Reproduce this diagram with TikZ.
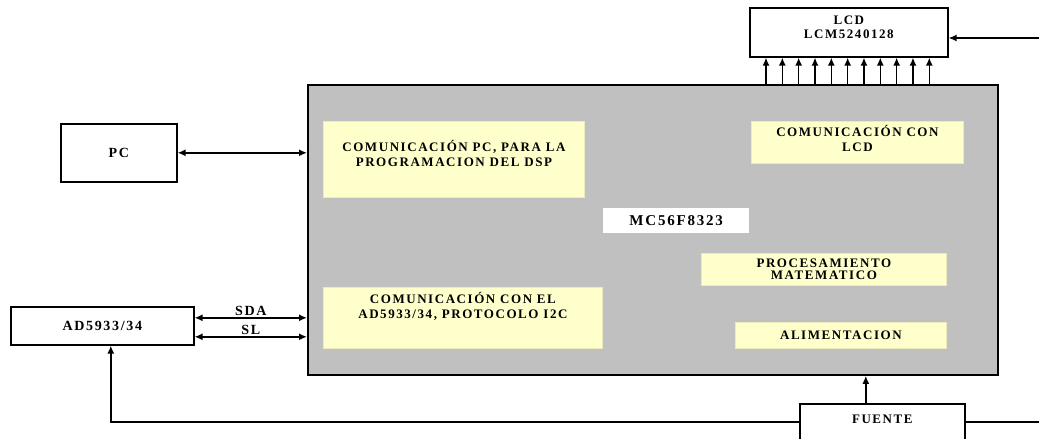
\documentclass[tikz,border=0pt]{standalone}
\usepackage{fontspec}
\setmainfont{Liberation Serif}
\newfontfamily\blockfont{Liberation Serif}[LetterSpace=12]
\usepackage{xcolor}
\definecolor{chipgray}{HTML}{C0C0C0}
\definecolor{taskyellow}{HTML}{FFFFCC}
\usepackage{tikz}
\usetikzlibrary{arrows.meta}

\tikzset{
  blk/.style={draw, line width=1.6pt, fill=white, inner sep=0pt, anchor=north west,
    align=center, font=\blockfont\bfseries\fontsize{14}{14}\selectfont},
  chip/.style={draw, line width=1.8pt, fill=chipgray, inner sep=0pt, anchor=north west},
  task/.style={fill=taskyellow, draw=taskyellow!92!black, line width=0.8pt, inner sep=0pt,
    anchor=north west},
  lbl/.style={align=center, inner sep=0pt, font=\blockfont\bfseries\fontsize{13}{15}\selectfont},
  sig/.style={inner sep=1pt, font=\blockfont\bfseries\fontsize{14}{14}\selectfont},
  bus/.style={line width=1.5pt, {Latex[length=8pt,width=7pt]}-{Latex[length=8pt,width=7pt]}},
  arr/.style={line width=1.5pt, -{Latex[length=8pt,width=7pt]}}
}

\begin{document}
\begin{tikzpicture}[x=1pt, y=-1pt]
  \useasboundingbox (0,0) rectangle (1039,439);
  \clip (0,0) rectangle (1039,439);

  % DSP board
  \node[chip, minimum width=690pt, minimum height=290pt] (dsp) at (307,84) {};

  % Tasks inside the DSP
  \node[task, minimum width=261pt, minimum height=76pt,
    label={[lbl, yshift=6pt]center:{COMUNICACIÓN PC, PARA LA\\PROGRAMACION DEL DSP}}]
    (pcprog) at (323,121) {};
  \node[task, minimum width=212pt, minimum height=42pt,
    label={[lbl, yshift=4pt]center:{COMUNICACIÓN CON\\LCD}}]
    (lcdcom) at (751,121) {};
  \node[fill=white, inner sep=0pt, anchor=north west, minimum width=146pt, minimum height=25pt,
    font=\blockfont\bfseries\fontsize{15}{15}\selectfont]
    (mcu) at (603,208) {MC56F8323};
  \node[task, minimum width=245pt, minimum height=32pt,
    label={[lbl, font=\blockfont\bfseries\fontsize{13}{12}\selectfont]center:{PROCESAMIENTO\\MATEMATICO}}]
    (math) at (701,253) {};
  \node[task, minimum width=211pt, minimum height=26pt,
    label={[lbl]center:ALIMENTACION}]
    (alim) at (735,322) {};
  \node[task, minimum width=279pt, minimum height=61pt,
    label={[lbl, yshift=11pt]center:{COMUNICACIÓN CON EL\\AD5933/34, PROTOCOLO I2C}}]
    (i2c) at (323,287) {};

  % Outside blocks
  \node[blk, minimum width=116pt, minimum height=58pt] (pc) at (60,123) {PC};
  \node[blk, minimum width=198pt, minimum height=49pt,
    label={[lbl, font=\blockfont\bfseries\fontsize{13}{14}\selectfont, yshift=5.5pt]center:{LCD\\LCM5240128}}]
    (lcd) at (749,7) {};
  \node[blk, minimum width=183pt, minimum height=38pt] (ad) at (10,306) {AD5933/34};
  \node[blk, minimum width=165pt, minimum height=50pt,
    label={[lbl, yshift=10pt]center:FUENTE}] (fuente) at (799,403) {};

  % PC link
  \draw[bus] (pc) -- (pc -| dsp.west);

  % I2C lines
  \coordinate (sda) at ([yshift=8pt]ad.east);
  \coordinate (scl) at ([yshift=-11pt]ad.east);
  \draw[bus] (sda) -- node[above, sig] {SDA} (sda -| dsp.west);
  \draw[bus] (scl) -- node[above, sig] {SL} (scl -| dsp.west);

  % LCD data bus
  \foreach \i in {0,...,10} {
    \coordinate (d\i) at ([xshift=17pt+\i*16.33pt]lcd.south west);
    \draw[arr] (d\i |- dsp.north) -- (d\i);
  }
  \coordinate (vin) at (1039,38);
  \draw[arr] (vin) -- (vin -| lcd.east);

  % Power supply
  \coordinate (pw) at ([xshift=-16.5pt]fuente.north);
  \draw[arr] (pw) -- (pw |- dsp.south);
  \coordinate (gl) at ([yshift=-19pt]fuente.north west);
  \coordinate (gr) at ([yshift=-19pt]fuente.north east);
  \draw[arr] (gl) -| ([xshift=8.5pt]ad.south);
  \draw[line width=1.5pt] (gr) -- (gr -| vin);
\end{tikzpicture}
\end{document}
